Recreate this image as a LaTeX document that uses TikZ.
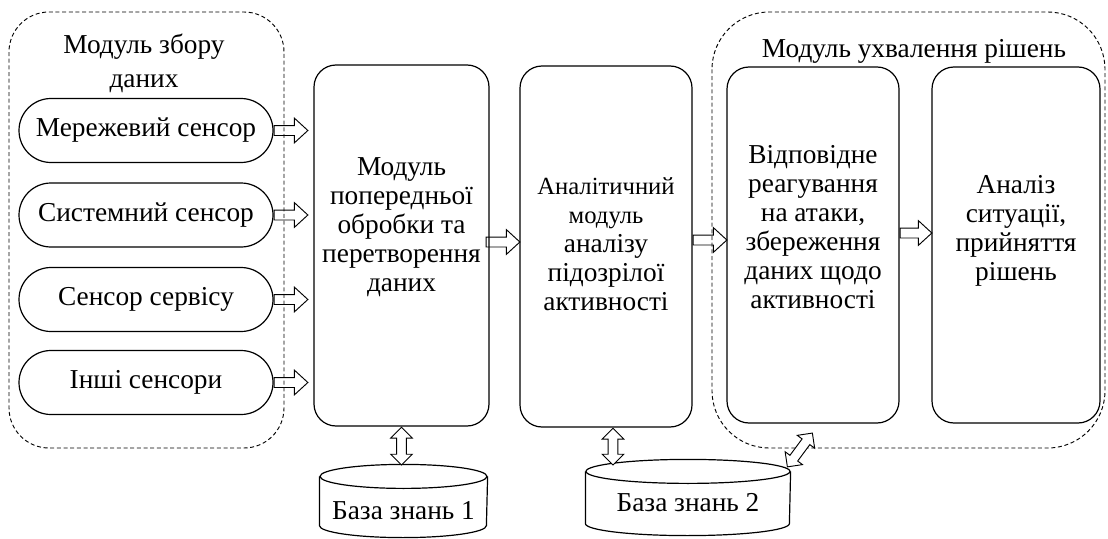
\documentclass[tikz,border=0pt]{standalone}
\usepackage{fontspec}
\setmainfont{Liberation Serif}
\usetikzlibrary{shapes.arrows,calc}
\tikzset{
  cont/.style={draw, dash pattern=on 3pt off 2pt, line width=0.7pt},
  rbox/.style={draw, rounded corners=16.5pt, line width=0.9pt},
  sensor/.style={draw, rounded corners=24pt, minimum width=190.5pt, minimum height=48pt, line width=0.9pt},
  txt/.style={align=center},
  harrow/.style={draw, line width=0.7pt, single arrow, single arrow head extend=5.5pt,
    single arrow tip angle=85, single arrow head indent=0pt, text height=6.75pt, text depth=0pt,
    inner sep=0pt, anchor=tail},
  darrow/.style={draw, fill=white, line width=0.7pt, double arrow, double arrow head extend=4.5pt,
    double arrow tip angle=90, double arrow head indent=0pt, text height=6.5pt, text depth=0pt,
    inner sep=0pt, anchor=tip 2},
}
\newcommand\hollowarrow[3]{\path let \p1=($(#3)-(#2)$), \n1={veclen(\x1,\y1)} in
  (#2) -- (#3) node[at start, sloped, allow upside down, #1, minimum height={\n1}] {};}
\newcommand\smallline[1]{{\fontsize{18.5}{21.75}\selectfont #1}}
\begin{document}
\begin{tikzpicture}[x=0.75pt,y=-0.75pt, line width=0.9pt,
  every node/.style={font=\fontsize{20.5}{21.75}\selectfont, inner sep=0pt}]
\useasboundingbox (0,0) rectangle (1108,539);
% containers
\draw[cont, rounded corners=30pt] (9,12) rectangle (284,448);
\draw[cont, rounded corners=43pt] (712,12) rectangle (1105,448);
% titles
\node[txt, font=\fontsize{20.5}{25.5}\selectfont] (tl) at (144,63) {Модуль збору\\даних};
\node[anchor=base] (tr) at (914,57) {Модуль ухвалення рішень};
% sensors
\node[sensor] (s1) at (146,130.5) {Мережевий сенсор};
\node[sensor] (s2) at (146,215) {Системний сенсор};
\node[sensor] (s3) at (146,299.5) {Сенсор сервісу};
\node[sensor] (s4) at (146,382.5) {Інші сенсори};
% boxes
\node[rbox, minimum width=131.25pt, minimum height=270.75pt] (b1) at (401.5,245.5) {};
\node[rbox, minimum width=129pt, minimum height=270.75pt] (b2) at (606,246.5) {};
\node[rbox, minimum width=129pt, minimum height=267pt] (b3) at (813,245) {};
\node[rbox, minimum width=126pt, minimum height=267pt] (b4) at (1016,245) {};
\node[txt] (t1) at (401.5,227) {Модуль\\попередньої\\обробки та\\перетворення\\даних};
\node[txt] (t2) at (606,244) {\smallline{Аналітичний}\\\smallline{модуль}\\аналізу\\підозрілої\\активності};
\node[txt] (t3) at (813,227) {Відповідне\\реагування\\на атаки,\\збереження\\даних щодо\\активності};
\node[txt] (t4) at (1016,231) {Аналіз\\ситуації,\\прийняття\\рішень};
% databases
\node[minimum width=125.25pt, minimum height=54pt] (db1) at (403.5,501) {};
\node[minimum width=153pt, minimum height=56.25pt] (db2) at (688,497.5) {};
\draw ($(db1.north)+(0,12)$) ellipse [x radius=83.5, y radius=12];
\draw ($(db1.north west)+(0,12)$) -- ($(db1.south west)+(0,-12)$)
  arc[start angle=180, end angle=0, x radius=83.5, y radius=12] -- ($(db1.north east)+(0,12)$);
\draw ($(db2.north)+(0,12)$) ellipse [x radius=102, y radius=12];
\draw ($(db2.north west)+(0,12)$) -- ($(db2.south west)+(0,-12)$)
  arc[start angle=180, end angle=0, x radius=102, y radius=12] -- ($(db2.north east)+(0,12)$);
\node (db1t) at (403.5,511) {База знань 1};
\node (db2t) at (688,503) {База знань 2};
% arrow end points
\coordinate (e1) at ($(b1.west |- s1.east)+(-6,0)$);
\coordinate (e2) at ($(b1.west |- s2.east)+(-6,0)$);
\coordinate (e3) at ($(b1.west |- s3.east)+(-6,0)$);
\coordinate (e4) at ($(b1.west |- s4.east)+(-6,0)$);
\coordinate (a12) at ($(b1.east)+(-4,-3.5)$);
\coordinate (a12e) at (b2.west |- a12);
\coordinate (a23) at ($(b2.east)+(0,-6.5)$);
\coordinate (a23e) at (b3.west |- a23);
\coordinate (a34) at ($(b3.east)+(0,-12)$);
\coordinate (a34e) at (b4.west |- a34);
\coordinate (v1e) at (b1.south |- db1.north);
\coordinate (v2) at ($(b2.south)+(7,0)$);
\coordinate (v2e) at ($(db2.north)+(-75,5)$);
\coordinate (d3) at ($(db2.north)+(99,8)$);
\coordinate (d3e) at ($(b3.south)+(-1,10)$);
% arrows
\hollowarrow{harrow}{s1.east}{e1}
\hollowarrow{harrow}{s2.east}{e2}
\hollowarrow{harrow}{s3.east}{e3}
\hollowarrow{harrow}{s4.east}{e4}
\hollowarrow{harrow}{a12}{a12e}
\hollowarrow{harrow}{a23}{a23e}
\hollowarrow{harrow}{a34}{a34e}
\hollowarrow{darrow}{b1.south}{v1e}
\hollowarrow{darrow}{v2}{v2e}
\hollowarrow{darrow}{d3}{d3e}
\end{tikzpicture}
\end{document}
